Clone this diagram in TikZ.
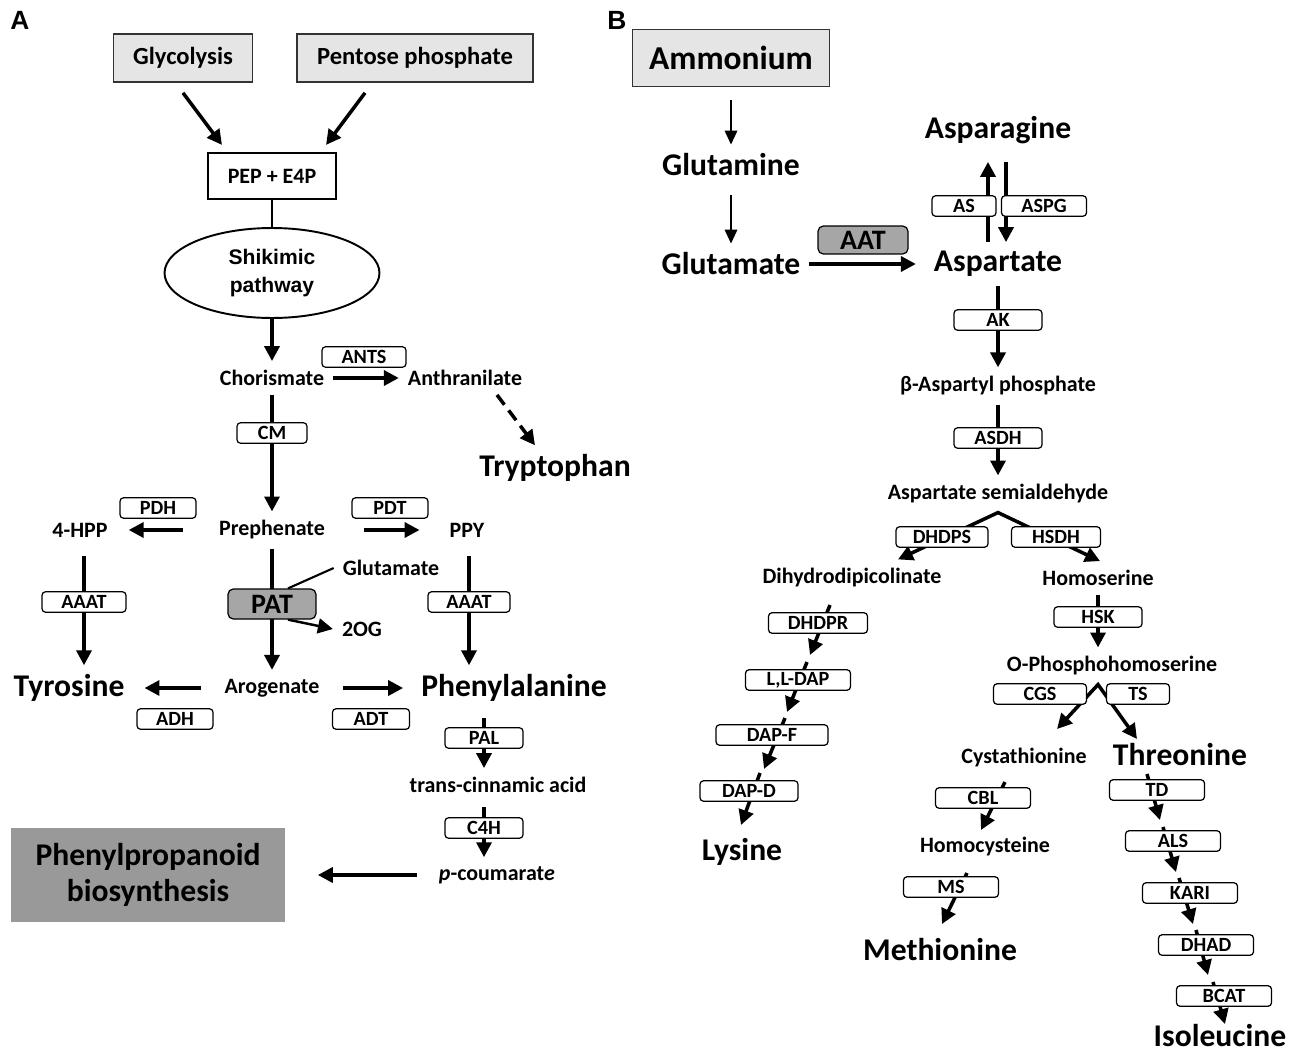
\documentclass[tikz,border=0pt]{standalone}
\usepackage{fontspec}
\setmainfont{Carlito}
\newfontfamily\arialfont{Liberation Sans}
\usetikzlibrary{arrows.meta,shapes.geometric}
\pgfdeclarelayer{back}
\pgfsetlayers{back,main}
\tikzset{
  met/.style={font=\bfseries\fontsize{12.5}{14}\selectfont, inner sep=5pt},
  aa/.style={font=\bfseries\fontsize{18}{20}\selectfont, inner sep=5pt},
  enz/.style={draw, rounded corners=2pt, fill=white, line width=0.7pt, inner sep=0pt,
    minimum height=0.41cm, minimum width=#1, font=\bfseries\fontsize{11.5}{12}\selectfont},
  enz/.default=1.9cm,
  hub/.style={draw, rounded corners=3pt, fill=black!35, line width=0.7pt, inner sep=0pt,
    minimum width=#1, font=\bfseries\fontsize{16}{18}\selectfont},
  src/.style={draw=black!80, fill=black!10, line width=1pt, inner sep=0pt},
  panel/.style={font=\arialfont\bfseries\fontsize{15}{16}\selectfont, inner sep=0pt},
  arr/.style={line width=2pt, -{Triangle[length=8.5pt,width=8.5pt]}},
  thinarr/.style={line width=1.4pt, -{Triangle[length=8pt,width=7pt]}},
  fork/.style={line width=2pt, {Triangle[length=8.5pt,width=8.5pt]}-{Triangle[length=8.5pt,width=8.5pt]}},
}
\begin{document}
\begin{tikzpicture}[x=0.02cm, y=-0.02cm]
  \useasboundingbox (0,0) rectangle (1304,1054);

  \node[panel] (A) at (20,20) {A};
  \node[panel] (B) at (617,20) {B};

  \node[src, minimum width=2.78cm, minimum height=0.96cm, font=\bfseries\fontsize{14}{16}\selectfont] (gly) at (183,58) {Glycolysis};
  \node[src, minimum width=4.72cm, minimum height=0.96cm, font=\bfseries\fontsize{14}{16}\selectfont] (ppp) at (415,58) {Pentose phosphate};
  \node[draw, line width=1.2pt, minimum width=2.56cm, minimum height=0.92cm, inner sep=0pt,
    font=\bfseries\fontsize{12.5}{14}\selectfont] (pep) at (272,176) {PEP + E4P};
  \node[ellipse, draw, line width=1.1pt, minimum width=4.3cm, minimum height=1.8cm, align=center,
    font=\arialfont\bfseries\fontsize{12}{15.5}\selectfont] (shik) at (272,273) {Shikimic\\pathway};
  \node[met] (chor) at (272,378) {Chorismate};
  \node[met] (anth) at (465,378) {Anthranilate};
  \node[aa] (trp) at (555,468) {Tryptophan};
  \node[met] (preph) at (272,530) {Prephenate};
  \node[met] (hpp) at (80,530) {4-HPP};
  \node[met] (ppy) at (467,530) {PPY};
  \node[met] (glu) at (391,568) {Glutamate};
  \node[met] (og) at (362,629) {2OG};
  \node[aa] (tyr) at (69,688) {Tyrosine};
  \node[met] (arog) at (272,688) {Arogenate};
  \node[aa] (phe) at (514,688) {Phenylalanine};
  \node[met] (tca) at (498,785) {trans-cinnamic acid};
  \node[met] (pcou) at (497,875) {\textit{p}-coumarat\textit{e}};
  \node[fill=black!40, minimum width=5.5cm, minimum height=1.88cm, align=center, inner sep=0pt,
    font=\bfseries\fontsize{18}{20.5}\selectfont] (ppd) at (148,875) {Phenylpropanoid\\biosynthesis};

  \node[enz=1.68cm] (ants) at (364,357) {ANTS};
  \node[enz=1.4cm] (cm) at (272,433) {CM};
  \node[enz=1.52cm] (pdh) at (158,508) {PDH};
  \node[enz=1.52cm] (pdt) at (390,508) {PDT};
  \node[enz=1.68cm] (aaat1) at (84,602) {AAAT};
  \node[hub=1.76cm, minimum height=0.6cm] (pat) at (272,604) {PAT};
  \node[enz=1.64cm] (aaat2) at (469,602) {AAAT};
  \node[enz=1.52cm] (adh) at (175,719) {ADH};
  \node[enz=1.54cm] (adt) at (371,719) {ADT};
  \node[enz=1.56cm] (pal) at (484,738) {PAL};
  \node[enz=1.56cm] (c4h) at (484,828) {C4H};

  \node[src, minimum width=3.94cm, minimum height=1.14cm, font=\bfseries\fontsize{19}{21}\selectfont] (amm) at (731,58) {Ammonium};
  \node[aa] (gln) at (731,165) {Glutamine};
  \node[aa] (glu2) at (731,264) {Glutamate};
  \node[aa] (asn) at (998,130) {Asparagine};
  \node[aa] (asp) at (998,264) {Aspartate};
  \node[met] (bap) at (998,386) {β-Aspartyl phosphate};
  \node[met] (asa) at (998,494) {Aspartate semialdehyde};
  \node[met] (dhdp) at (852,578) {Dihydrodipicolinate};
  \node[met] (hse) at (1098,578) {Homoserine};
  \node[met] (ophs) at (1112,666) {O-Phosphohomoserine};
  \node[met] (cys) at (1024,758) {Cystathionine};
  \node[aa] (thr) at (1180,755) {Threonine};
  \node[met] (hcy) at (985,847) {Homocysteine};
  \node[aa] (lys) at (742,852) {Lysine};
  \node[aa] (meth) at (940,950) {Methionine};
  \node[aa] (ile) at (1220,1036) {Isoleucine};

  \node[hub=1.8cm, minimum height=0.56cm] (aat) at (863,240) {AAT};
  \node[enz=1.28cm] (as) at (964,206) {AS};
  \node[enz=1.7cm] (aspg) at (1044,206) {ASPG};
  \node[enz=1.76cm] (ak) at (998,320) {AK};
  \node[enz=1.76cm] (asdh) at (998,438) {ASDH};
  \node[enz=1.84cm] (dhdps) at (942,537) {DHDPS};
  \node[enz=1.78cm] (hsdh) at (1056,537) {HSDH};
  \node[enz=1.98cm] (dhdpr) at (818,623) {DHDPR};
  \node[enz=2.1cm] (lldap) at (798,680) {L,L-DAP};
  \node[enz=2.24cm] (dapf) at (772,735) {DAP-F};
  \node[enz=1.96cm] (dapd) at (749,791) {DAP-D};
  \node[enz=1.76cm] (hsk) at (1098,617) {HSK};
  \node[enz=1.86cm] (cgs) at (1040,694) {CGS};
  \node[enz=1.26cm] (ts) at (1138,694) {TS};
  \node[enz] (cbl) at (983,798) {CBL};
  \node[enz] (ms) at (951,887) {MS};
  \node[enz] (td) at (1157,790) {TD};
  \node[enz] (als) at (1173,841) {ALS};
  \node[enz] (kari) at (1190,893) {KARI};
  \node[enz] (dhad) at (1206,945) {DHAD};
  \node[enz] (bcat) at (1224,996) {BCAT};

  \coordinate (dhdpr-a) at (830,605);
  \coordinate (dhdpr-b) at (810,655);
  \coordinate (lldap-a) at (807,662);
  \coordinate (lldap-b) at (787,712);
  \coordinate (dapf-a) at (785,718);
  \coordinate (dapf-b) at (764,769);
  \coordinate (dapd-a) at (760,773);
  \coordinate (dapd-b) at (741,825);
  \coordinate (cgs-b) at (1057,729);
  \coordinate (ts-b) at (1137,739);
  \coordinate (cbl-a) at (1005,782);
  \coordinate (cbl-b) at (981,830);
  \coordinate (ms-a) at (967,873);
  \coordinate (ms-b) at (942,924);
  \coordinate (td-a) at (1147,774);
  \coordinate (td-b) at (1160,820);
  \coordinate (als-a) at (1163,827);
  \coordinate (als-b) at (1176,872);
  \coordinate (kari-a) at (1179,878);
  \coordinate (kari-b) at (1193,924);
  \coordinate (dhad-a) at (1196,930);
  \coordinate (dhad-b) at (1208,975);
  \coordinate (bcat-a) at (1213,982);
  \coordinate (bcat-b) at (1225,1024);

  \begin{pgfonlayer}{back}
    \draw[arr] ([yshift=-0.2cm]gly.south) -- ([xshift=-1cm,yshift=0.14cm]pep.north);
    \draw[arr] ([xshift=-1cm,yshift=-0.2cm]ppp.south) -- ([xshift=1.08cm,yshift=0.14cm]pep.north);
    \draw[line width=1.5pt] (pep) -- (shik);
    \draw[arr] (shik) -- (chor);
    \draw[arr] (chor) -- (anth);
    \draw[arr, dash pattern=on 7pt off 4pt] ([xshift=0.64cm]anth.south) -- ([xshift=-0.4cm]trp.north);
    \draw[arr] (chor) -- (preph);
    \draw[arr, shorten <=0.54cm, shorten >=0.24cm] (preph.west) -- (hpp.east);
    \draw[arr, shorten <=0.6cm, shorten >=0.42cm] (preph.east) -- (ppy.west);
    \draw[arr, shorten <=0.2cm] (aaat1.center |- hpp.south) -- (aaat1.center |- tyr.north);
    \draw[arr] (preph) -- (arog);
    \draw[arr, shorten <=0.2cm] (aaat2.center |- ppy.south) -- (aaat2.center |- phe.north);
    \draw[arr, shorten <=0.3cm, shorten >=0.22cm] (arog.west) -- (tyr.east);
    \draw[arr, shorten <=0.3cm, shorten >=0.18cm] (arog.east) -- (phe.west);
    \draw[line width=1.2pt] ([xshift=0.32cm]pat.north) -- (glu.west);
    \draw[arr, line width=1.4pt] ([xshift=0.32cm]pat.south) -- (og.west);
    \draw[arr, shorten <=0.14cm] (pal.center |- phe.south) -- (pal.center |- tca.north);
    \draw[arr, shorten <=0.1cm] (c4h.center |- tca.south) -- (c4h.center |- pcou.north);
    \draw[arr, shorten <=0.26cm, shorten >=0.64cm] (pcou.west) -- (ppd.east);

    \draw[thinarr, shorten <=0.26cm] (amm) -- (gln);
    \draw[thinarr, shorten <=0.2cm] (gln) -- (glu2);
    \draw[arr, shorten >=0.18cm] (glu2) -- (asp);
    \draw[arr, shorten >=0.18cm] ([xshift=-0.2cm]asp.north) -- ([xshift=-0.2cm]asn.south);
    \draw[arr, shorten <=0.18cm] ([xshift=0.16cm]asn.south) -- ([xshift=0.16cm]asp.north);
    \draw[arr] (asp) -- (bap);
    \draw[arr] (bap) -- (asa);
    \draw[fork] ([xshift=0.92cm]dhdp.north) -- (asa.south) -- ([xshift=0.04cm]hse.north);
    \draw[arr] (hsk.center |- hse.south) -- (hsk.center |- ophs.north);
    \draw[fork] (cgs-b) -- (hsk.center |- ophs.south) -- (ts-b);
    \draw[arr] (dhdpr-a) -- (dhdpr-b);
    \draw[arr] (lldap-a) -- (lldap-b);
    \draw[arr] (dapf-a) -- (dapf-b);
    \draw[arr] (dapd-a) -- (dapd-b);
    \draw[arr] (cbl-a) -- (cbl-b);
    \draw[arr] (ms-a) -- (ms-b);
    \draw[arr] (td-a) -- (td-b);
    \draw[arr] (als-a) -- (als-b);
    \draw[arr] (kari-a) -- (kari-b);
    \draw[arr] (dhad-a) -- (dhad-b);
    \draw[arr] (bcat-a) -- (bcat-b);
  \end{pgfonlayer}
\end{tikzpicture}
\end{document}
